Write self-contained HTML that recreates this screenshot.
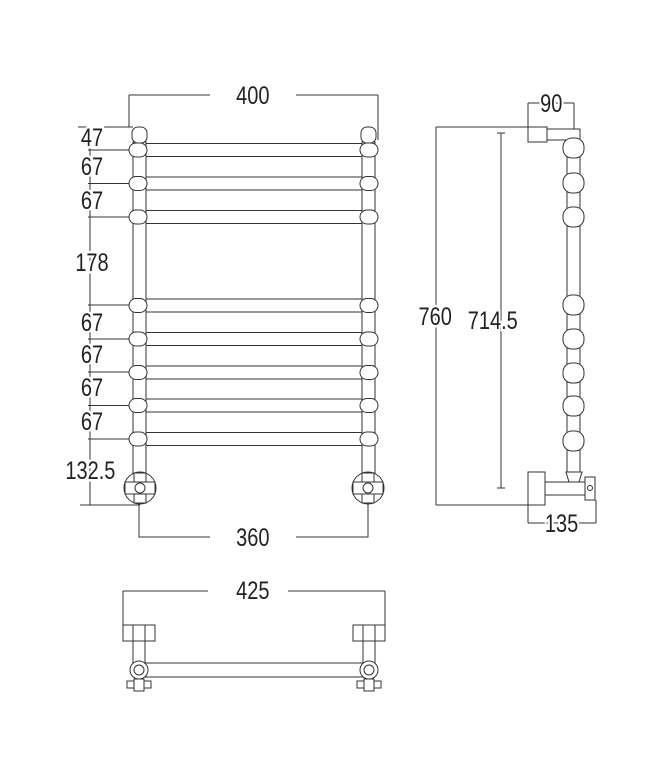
<!DOCTYPE html>
<html><head><style>body{margin:0;background:#fff}svg{display:block}</style></head><body>
<svg width="667" height="762" viewBox="0 0 667 762" xmlns="http://www.w3.org/2000/svg" font-family="Liberation Sans, sans-serif">
<g fill="none" stroke="#333" stroke-width="1">
<rect x="133" y="142" width="13" height="334" fill="#fff"/>
<rect x="362" y="142" width="13" height="334" fill="#fff"/>
<rect x="132" y="127" width="15" height="16" rx="6" fill="#fff"/>
<rect x="361" y="127" width="15" height="16" rx="6" fill="#fff"/>
<g>
<rect x="146" y="143.5" width="216" height="13" fill="#fff"/>
<rect x="146" y="177" width="216" height="13" fill="#fff"/>
<rect x="146" y="210.5" width="216" height="13" fill="#fff"/>
<rect x="146" y="299" width="216" height="13" fill="#fff"/>
<rect x="146" y="332.5" width="216" height="13" fill="#fff"/>
<rect x="146" y="366" width="216" height="13" fill="#fff"/>
<rect x="146" y="399" width="216" height="13" fill="#fff"/>
<rect x="146" y="432.5" width="216" height="13" fill="#fff"/>
</g>
<g fill="#fff">
<rect x="129" y="143" width="18" height="14" rx="7"/><rect x="360" y="143" width="18" height="14" rx="7"/>
<rect x="129" y="176.5" width="18" height="14" rx="7"/><rect x="360" y="176.5" width="18" height="14" rx="7"/>
<rect x="129" y="210" width="18" height="14" rx="7"/><rect x="360" y="210" width="18" height="14" rx="7"/>
<rect x="129" y="298.5" width="18" height="14" rx="7"/><rect x="360" y="298.5" width="18" height="14" rx="7"/>
<rect x="129" y="332" width="18" height="14" rx="7"/><rect x="360" y="332" width="18" height="14" rx="7"/>
<rect x="129" y="365.5" width="18" height="14" rx="7"/><rect x="360" y="365.5" width="18" height="14" rx="7"/>
<rect x="129" y="398.5" width="18" height="14" rx="7"/><rect x="360" y="398.5" width="18" height="14" rx="7"/>
<rect x="129" y="432" width="18" height="14" rx="7"/><rect x="360" y="432" width="18" height="14" rx="7"/>
</g>
<g fill="#fff">
<circle cx="140" cy="488" r="16"/><circle cx="368" cy="488" r="16"/>
<rect x="134" y="473" width="12" height="30"/><rect x="125" y="482" width="30" height="12"/>
<rect x="362" y="473" width="12" height="30"/><rect x="353" y="482" width="30" height="12"/>
<circle cx="140" cy="488" r="5"/><circle cx="368" cy="488" r="5"/>
</g>
<path d="M129 95H210M296 95H378M129 95V127M378 95V140"/>
<path d="M90 128V505M78 127H133M88 150H129M88 183.5H129M88 217H129M88 305H129M88 339H129M88 372H129M88 405.5H129M88 439H129M80 505H140"/>
<path d="M139 503V537H210M296 537H368V503"/>
<path d="M436 127V505M436 127H528M436 505H528M501 133V488M497 133H505M497 488H505"/>
<path d="M528 103H574M528 103V127M574 103V140M528 523H596M528 505V523M596 500V523"/>
<rect x="528" y="127" width="19" height="15" fill="#fff"/>
<rect x="547" y="129" width="33" height="11" fill="#fff"/>
<rect x="567" y="142" width="13" height="332" fill="#fff"/>
<g fill="#fff">
<rect x="563" y="138" width="21" height="20" rx="9"/>
<rect x="563" y="173" width="21" height="20" rx="9"/>
<rect x="563" y="207" width="21" height="20" rx="9"/>
<rect x="563" y="295" width="21" height="20" rx="9"/>
<rect x="563" y="329" width="21" height="20" rx="9"/>
<rect x="563" y="363" width="21" height="20" rx="9"/>
<rect x="563" y="396" width="21" height="20" rx="9"/>
<rect x="563" y="431" width="21" height="20" rx="9"/>
<path d="M566 472H582L579 482L574 488L569 482Z"/>
<rect x="528" y="472" width="17" height="33"/>
<rect x="545" y="482" width="40" height="13"/>
<rect x="585" y="477" width="10" height="23"/>
<circle cx="590" cy="488" r="2.5"/>
</g>
<path d="M123 591H208M288 591H385M123 591V625M385 591V625"/>
<g fill="#fff">
<rect x="123" y="625" width="32" height="16"/><rect x="133" y="625" width="12" height="16"/>
<rect x="353" y="625" width="32" height="16"/><rect x="363" y="625" width="12" height="16"/>
<rect x="133" y="641" width="12" height="28"/><rect x="363" y="641" width="12" height="28"/>
<rect x="145" y="663" width="218" height="14"/>
<circle cx="139" cy="670" r="9"/><circle cx="139" cy="670" r="5"/>
<circle cx="369" cy="670" r="9"/><circle cx="369" cy="670" r="5"/>
<rect x="127" y="681" width="24" height="7"/><rect x="134" y="679" width="10" height="12"/>
<rect x="357" y="681" width="24" height="7"/><rect x="364" y="679" width="10" height="12"/>
</g>
</g>
<g fill="#222" font-size="25" text-anchor="middle" stroke="#fff" stroke-width="5" paint-order="stroke">
<g transform="scale(0.8,1)">
<text x="316" y="104">400</text>
<text x="115" y="146">47</text>
<text x="115" y="175">67</text>
<text x="115" y="209">67</text>
<text x="115" y="271">178</text>
<text x="115" y="331">67</text>
<text x="115" y="363">67</text>
<text x="115" y="396">67</text>
<text x="115" y="430">67</text>
<text x="113" y="479">132.5</text>
<text x="316" y="546">360</text>
<text x="544" y="325">760</text>
<text x="616" y="329">714.5</text>
<text x="689" y="112">90</text>
<text x="702" y="532">135</text>
<text x="316" y="599">425</text>
</g>
</g>
</svg>
</body></html>
